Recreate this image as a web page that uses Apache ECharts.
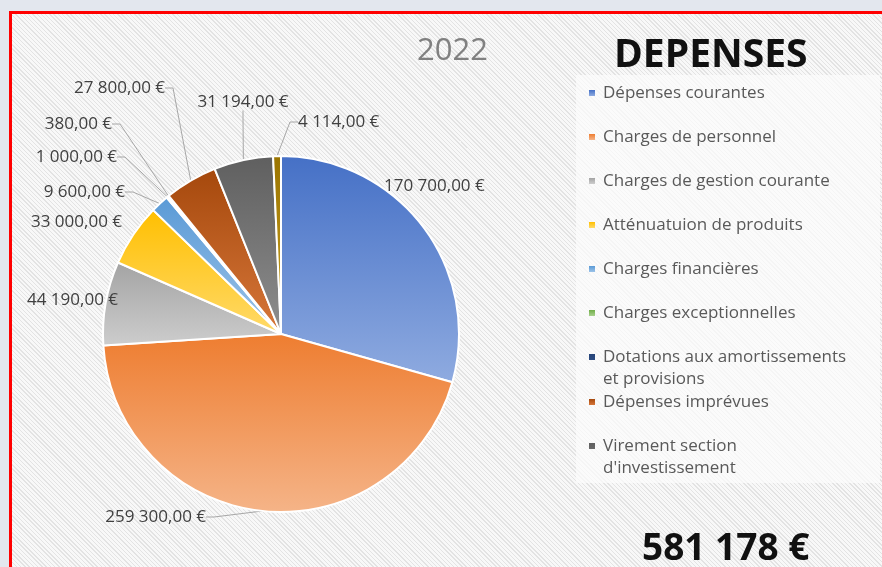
<!DOCTYPE html>
<html>
<head>
<meta charset="utf-8">
<script src="https://cdn.jsdelivr.net/npm/echarts@6/dist/echarts.min.js"></script>
<style>
  html, body { margin: 0; padding: 0; width: 882px; height: 567px; overflow: hidden; background: #e3e7ee; }
  #frame {
    position: absolute; left: 9px; top: 11px; width: 900px; height: 600px;
    border: 3px solid #ff0000; box-sizing: border-box;
    background-color: #f1f1f1;
    background-image: repeating-linear-gradient(45deg, #f8f8f8 0px, #f8f8f8 2px, #e3e3e3 2px, #e3e3e3 3px);
  }
  #main { position: absolute; left: 0; top: 0; width: 882px; height: 567px; }
</style>
</head>
<body>
<div id="frame"></div>
<div id="main"></div>
<script>
  // données
  var categories = [
    'Dépenses courantes',
    'Charges de personnel',
    'Charges de gestion courante',
    'Atténuatuion de produits',
    'Charges financières',
    'Charges exceptionnelles',
    'Dotations aux amortissements et provisions',
    'Dépenses imprévues',
    'Virement section d\'investissement',
    'Autres'
  ];
  var values = [170700, 259300, 44190, 33000, 9600, 1000, 380, 27800, 31194, 4114];
  var yearText = '2022';
  var titleText = 'DEPENSES';
  var totalText = '581 178 €';

  // couleurs (haut / bas du dégradé)
  var topColors = ['#4570c6', '#ee7d30', '#a3a3a3', '#ffbf00', '#5a9ad6', '#70ad47', '#264478', '#a5480c', '#5f5f5f', '#9a7400'];
  var bottomColors = ['#8fabe0', '#f5b488', '#cdcdcd', '#ffda6a', '#9cc3e8', '#a9d18e', '#4a6aa8', '#d7773a', '#8e8e8e', '#c9a020'];

  // placement des étiquettes (comme dans le graphique Excel)
  var labelSpots = [
    [384, 186, 'left'], [206, 517, 'right'], [118, 300, 'right'], [122, 222, 'right'],
    [125, 192, 'right'], [117, 157, 'right'], [112, 124, 'right'], [165, 88, 'right'],
    [243, 102, 'center'], [298, 122, 'left']
  ];
  var noLeader = [0, 2, 3];

  function euro(v) {
    return v.toFixed(2).replace('.', ',').replace(/\B(?=(\d{3})+(?!\d))/g, ' ') + ' €';
  }

  var pieData = values.map(function (v, i) {
    return {
      value: v,
      name: categories[i],
      labelLine: { show: noLeader.indexOf(i) < 0 },
      itemStyle: {
        color: new echarts.graphic.LinearGradient(0, 0, 0, 1, [
          { offset: 0, color: topColors[i] },
          { offset: 1, color: bottomColors[i] }
        ])
      }
    };
  });

  // légende : une entrée tous les 44 px, même pour les libellés sur deux lignes
  // (pour ceux-là le carré reste en face de la première ligne)
  function makeLegend(names, firstLineY, twoLines) {
    return {
      orient: 'vertical',
      left: 589,
      top: firstLineY - 11,
      data: names,
      icon: twoLines ? 'path://M0,0L6,0L6,6L0,6Z M0,28L6,28' : 'rect',
      symbolKeepAspect: false,
      itemWidth: 6,
      itemHeight: twoLines ? 28 : 6,
      itemGap: 22,
      padding: 0,
      selectedMode: false,
      itemStyle: { borderWidth: 0 },
      formatter: function (name) {
        return name.replace('amortissements ', 'amortissements\n').replace('section ', 'section\n');
      },
      textStyle: { fontFamily: 'Open Sans', fontSize: 17, color: '#595959', lineHeight: 22, padding: [0, 0, 0, 3] }
    };
  }

  var chart = echarts.init(document.getElementById('main'));
  chart.setOption({
    animation: false,
    graphic: [{
      type: 'rect', z: -10,
      shape: { x: 576, y: 75, width: 304, height: 408 },
      style: { fill: 'rgba(252,252,252,0.7)' }
    }],
    title: [
      { text: yearText, left: 412, top: 31, textStyle: { fontFamily: 'Open Sans', fontSize: 31, fontWeight: 'normal', color: '#808080' } },
      { text: titleText, left: 609, top: 31, textStyle: { fontFamily: 'Open Sans', fontSize: 39, fontWeight: 'bold', color: '#111111' } },
      { text: totalText, left: 637, top: 526, textStyle: { fontFamily: 'Open Sans', fontSize: 37, fontWeight: 'bold', color: '#111111' } }
    ],
    legend: [
      makeLegend(categories.slice(0, 6), 93, false),
      makeLegend([categories[6]], 357, true),
      makeLegend([categories[7]], 402, false),
      makeLegend([categories[8]], 446, true)
    ],
    series: [{
      type: 'pie',
      center: [281, 334],
      radius: 178,
      startAngle: 90,
      clockwise: true,
      data: pieData,
      itemStyle: { borderColor: '#ffffff', borderWidth: 2 },
      label: {
        formatter: function (p) { return euro(p.value); },
        fontFamily: 'Open Sans',
        fontSize: 17,
        color: '#404040',
        overflow: 'none'
      },
      labelLine: { length: 14, length2: 8, lineStyle: { color: '#a6a6a6', width: 1 } },
      labelLayout: function (p) {
        var s = labelSpots[p.dataIndex];
        return { x: s[0], y: s[1], align: s[2], verticalAlign: 'middle' };
      },
      emphasis: { disabled: true }
    }]
  });
</script>
</body>
</html>
